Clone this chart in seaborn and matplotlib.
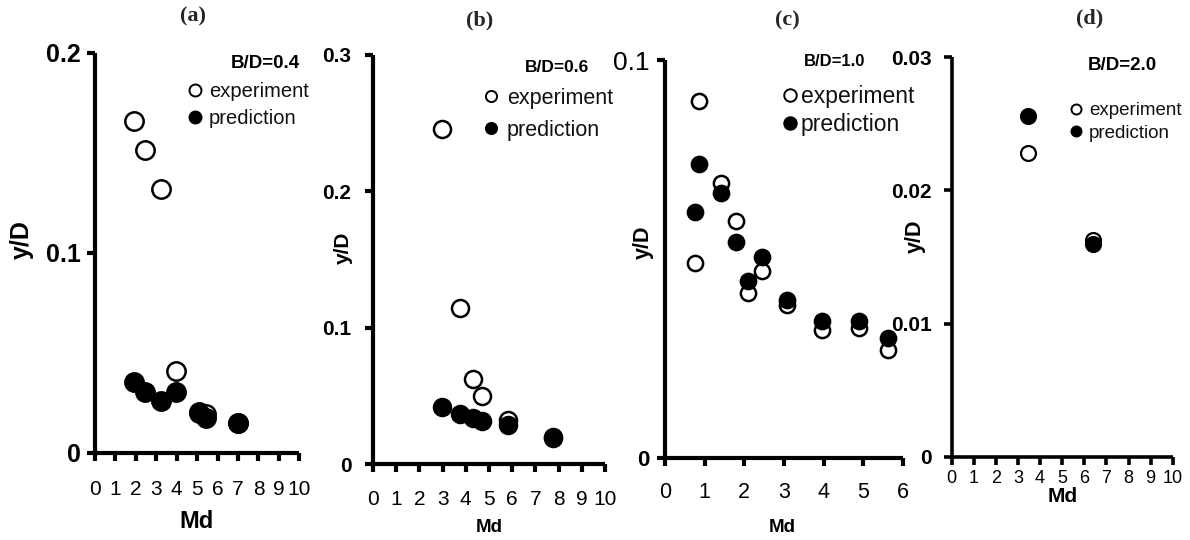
import matplotlib
matplotlib.use("Agg")
import matplotlib.pyplot as plt
import seaborn as sns
from matplotlib.lines import Line2D

sns.set_theme(style="white")
plt.rcParams['font.family'] = ['Liberation Sans', 'DejaVu Sans']

# ---------------- data ----------------
a_md   = [1.93, 2.45, 3.22, 3.96, 5.10, 5.44, 7.02]
a_exp  = [0.166, 0.1515, 0.132, 0.041, 0.0205, 0.0195, 0.015]
a_pred = [0.0354, 0.0307, 0.0262, 0.0307, 0.0202, 0.0174, 0.0149]

b_md   = [2.96, 3.75, 4.32, 4.68, 5.82, 7.76]
b_exp  = [0.2456, 0.1142, 0.0621, 0.0501, 0.0323, 0.0195]
b_pred = [0.0420, 0.0367, 0.0335, 0.0315, 0.0286, 0.0189]

c_md   = [0.75, 0.86, 1.40, 1.79, 2.09, 2.44, 3.08, 3.96, 4.90, 5.61]
c_exp  = [0.0491, 0.0897, 0.0692, 0.0595, 0.0414, 0.0470, 0.0384, 0.0322, 0.0326, 0.0271]
c_pred = [0.0617, 0.0739, 0.0667, 0.0542, 0.0445, 0.0504, 0.0397, 0.0344, 0.0344, 0.0301]

d_md   = [3.47, 6.41]
d_exp  = [0.0228, 0.0163]
d_pred = [0.0256, 0.0160]

titles = ['(a)', '(b)', '(c)', '(d)']
ratio_labels = ['B/D=0.4', 'B/D=0.6', 'B/D=1.0', 'B/D=2.0']
series_names = ['experiment', 'prediction']
x_label = 'Md'
y_label = 'y/D'

x_ticks_10 = list(range(0, 11))
x_ticks_6 = list(range(0, 7))
y_ticks_a = [0, 0.1, 0.2]
y_ticklabels_a = ['0', '0.1', '0.2']
y_ticks_b = [0, 0.1, 0.2, 0.3]
y_ticklabels_b = ['0', '0.1', '0.2', '0.3']
y_ticks_c = [0, 0.1]
y_ticklabels_c = ['0', '0.1']
y_ticks_d = [0, 0.01, 0.02, 0.03]
y_ticklabels_d = ['0', '0.01', '0.02', '0.03']

# ---------------- layout (pixels) ----------------
W, H = 1190, 540
fig = plt.figure(figsize=(W / 100, H / 100), dpi=100)
fig.patch.set_facecolor('white')

panels = [
    dict(md=a_md, exp=a_exp, pred=a_pred, xt=x_ticks_10, yt=y_ticks_a, ytl=y_ticklabels_a,
         box=(95, 299.3, 53, 453), xlim=(0, 10), ylim=(0, 0.2), s=175, mlw=1.8, spine=3.0,
         ytick_fs=18, ytick_pad=5, xtick_fs=15, xtick_pad=14,
         ylab=(22, 240, 18), xlab=(197, 521, 17), title=(193, 16), bd=(300, 64, 13.5, 'right'),
         leg=dict(fs=14.5, mx=195, tx=209, y1=94, y2=125, ms=8.6)),
    dict(md=b_md, exp=b_exp, pred=b_pred, xt=x_ticks_10, yt=y_ticks_b, ytl=y_ticklabels_b,
         box=(373, 605, 55, 464), xlim=(0, 10), ylim=(0, 0.3), s=150, mlw=1.8, spine=3.0,
         ytick_fs=15, ytick_pad=10, xtick_fs=15, xtick_pad=13,
         ylab=(343, 248, 15), xlab=(489, 527, 13.5), title=(480, 20), bd=(557, 68, 12.5, 'center'),
         leg=dict(fs=15.5, mx=491, tx=507, y1=100, y2=136, ms=8)),
    dict(md=c_md, exp=c_exp, pred=c_pred, xt=x_ticks_6, yt=y_ticks_c, ytl=y_ticklabels_c,
         box=(665, 903, 60, 458), xlim=(0, 6), ylim=(0, 0.1), s=120, mlw=1.8, spine=3.0,
         ytick_fs=19, ytick_pad=6, xtick_fs=15.5, xtick_pad=12,
         ylab=(643, 242, 15.5), xlab=(782, 527, 13.5), title=(787, 20), bd=(835, 62, 12, 'center'),
         leg=dict(fs=16.5, mx=790, tx=801, y1=98, y2=130, ms=9)),
    dict(md=d_md, exp=d_exp, pred=d_pred, xt=x_ticks_10, yt=y_ticks_d, ytl=y_ticklabels_d,
         box=(951.7, 1172.7, 57, 457), xlim=(0, 10), ylim=(0, 0.03), s=115, mlw=1.6, spine=2.6,
         ytick_fs=15, ytick_pad=9, xtick_fs=13, xtick_pad=4,
         ylab=(915, 236, 15.5), xlab=(1063, 497, 15), title=(1090, 18), bd=(1122, 65, 13.5, 'center'),
         leg=dict(fs=13.5, mx=1076, tx=1089, y1=113, y2=140, ms=7.2)),
]

for i, p in enumerate(panels):
    l, r, t, b = p['box']
    ax = fig.add_axes([l / W, 1 - b / H, (r - l) / W, (b - t) / H])
    ax.set_facecolor('white')

    sns.scatterplot(x=p['md'], y=p['exp'], ax=ax, s=p['s'], color='white',
                    edgecolor='black', linewidth=p['mlw'], zorder=3, legend=False)
    sns.scatterplot(x=p['md'], y=p['pred'], ax=ax, s=p['s'], color='black',
                    edgecolor='black', linewidth=p['mlw'], zorder=4, legend=False)

    ax.set_xlim(*p['xlim'])
    ax.set_ylim(*p['ylim'])
    ax.set_xticks(p['xt'])
    ax.set_xticklabels([str(v) for v in p['xt']])
    ax.set_yticks(p['yt'])
    ax.set_yticklabels(p['ytl'])

    for side in ['top', 'right']:
        ax.spines[side].set_visible(False)
    for side in ['left', 'bottom']:
        ax.spines[side].set_visible(True)
        ax.spines[side].set_color('black')
        ax.spines[side].set_linewidth(p['spine'])
        ax.spines[side].set_capstyle('butt')
    ax.grid(False)
    ax.tick_params(axis='both', which='major', direction='out', length=5.5,
                   width=p['spine'], color='black', left=True, bottom=True)
    ax.tick_params(axis='x', labelsize=p['xtick_fs'], pad=p['xtick_pad'], labelcolor='black')
    ax.tick_params(axis='y', labelsize=p['ytick_fs'], pad=p['ytick_pad'], labelcolor='black')
    for lbl in ax.get_yticklabels():
        lbl.set_fontweight('bold')
    if i == 2:
        for lbl in ax.get_yticklabels():
            if lbl.get_text() == '0.1':
                lbl.set_fontweight('normal')
            else:
                lbl.set_fontsize(16)
    for lbl in ax.get_xticklabels():
        lbl.set_fontweight('normal')

    # axis labels
    ylx, yly, ylfs = p['ylab']
    ax.set_ylabel(y_label, fontsize=ylfs, fontweight='bold', color='black')
    ax.yaxis.set_label_coords((ylx - l) / (r - l), (b - yly) / (b - t))
    ax.yaxis.label.set_va('center')
    xlx, xly, xlfs = p['xlab']
    ax.set_xlabel(x_label, fontsize=xlfs, fontweight='bold', color='black')
    ax.xaxis.set_label_coords((xlx - l) / (r - l), (b - xly) / (b - t))
    ax.xaxis.label.set_va('center')

    # panel title
    tx, ty = p['title']
    fig.text(tx / W, 1 - ty / H, titles[i], ha='center', va='center',
             fontsize=16, fontweight='bold', family=['Liberation Serif', 'DejaVu Serif'])

    # B/D label
    bx, by, bfs, bha = p['bd']
    fig.text(bx / W, 1 - by / H, ratio_labels[i], ha=bha, va='center',
             fontsize=bfs, fontweight='bold', color='black')

    # legend
    lg = p['leg']
    fs = lg['fs']
    fpx = fs * 100 / 72
    hl = 0.75
    left = lg['mx'] - hl * fpx / 2
    htp = (lg['tx'] - left - hl * fpx) / fpx
    rowh = fpx * 1.16
    lsp = max(((lg['y2'] - lg['y1']) - rowh) / fpx, 0)
    top = lg['y1'] - rowh / 2
    handles = [
        Line2D([], [], marker='o', linestyle='none', markerfacecolor='white',
               markeredgecolor='black', markeredgewidth=1.4, markersize=lg['ms'],
               label=series_names[0]),
        Line2D([], [], marker='o', linestyle='none', markerfacecolor='black',
               markeredgecolor='black', markeredgewidth=1.4, markersize=lg['ms'],
               label=series_names[1]),
    ]
    leg = ax.legend(handles=handles, loc='upper left', bbox_to_anchor=(left / W, 1 - top / H),
                    bbox_transform=fig.transFigure, frameon=False, borderpad=0,
                    borderaxespad=0, handlelength=hl, handletextpad=htp,
                    labelspacing=lsp, fontsize=fs)
    for txt in leg.get_texts():
        txt.set_color('#111111')

fig.savefig('out.png', dpi=100, facecolor='white')
